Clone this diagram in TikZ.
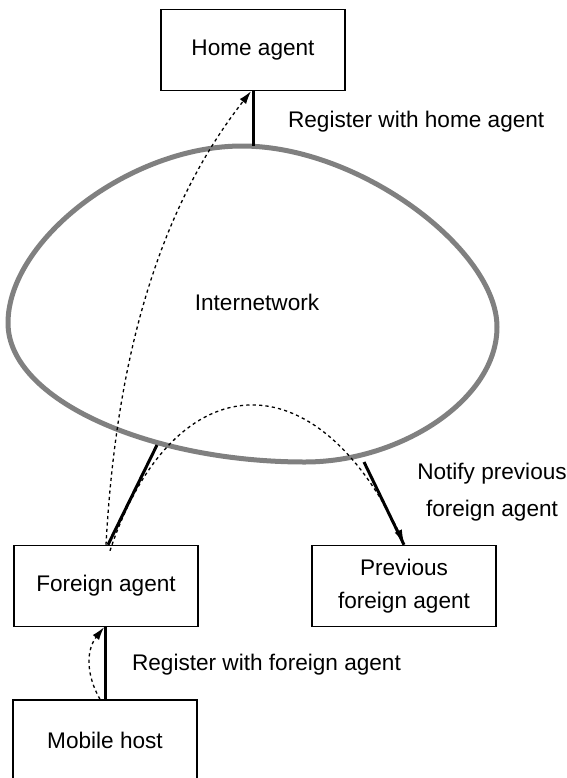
\documentclass[tikz,border=0pt]{standalone}
\usepackage{fontspec}
\setmainfont{Liberation Sans}
\usetikzlibrary{positioning}
\usetikzlibrary{arrows.meta,calc}

\tikzset{
  agentbox/.style={draw, line width=0.75pt, minimum width=92pt, minimum height=40.5pt, align=center, font=\fontsize{11.3}{16.5}\selectfont},
  link/.style={line width=1.5pt},
  msgpath/.style={line width=0.65pt, dash pattern=on 1.6pt off 1.6pt, -{Latex[length=6.5pt,width=4pt]}},
  lbl/.style={font=\fontsize{11.3}{18.5}\selectfont, align=center}
}

\begin{document}
\begin{tikzpicture}[x=0.5pt,y=-0.5pt]
	\useasboundingbox (0,0) rectangle (567,778);
	% the internetwork cloud
	\draw[color=gray, line width=2.5pt, line join=round] (242,146) .. controls (360,146) and (497,250) .. (497,327)
		.. controls (497,400) and (400,462) .. (305,462)
		.. controls (150,462) and (8,400) .. (8,323)
		.. controls (8,240) and (130,146) .. (242,146) -- cycle;
	\node[lbl] (inet) at (257,302) {Internetwork};
	\coordinate (net_n) at (253,146);
	\coordinate (net_sw) at (157,445);
	\coordinate (net_se) at (364,462);

	\node[agentbox] (ha) at (253,50) {Home agent};
	\node[agentbox] (fa) at (106,586) {Foreign agent};
	\node[agentbox] (pfa) at (404,586) {Previous\\foreign agent};
	\node[agentbox, minimum height=40pt] (mh) at (105,740) {Mobile host};

	\draw[link] (ha.south) -- (net_n);
	\draw[link] ([xshift=1pt]fa.north) -- (net_sw);
	\draw[link] (net_se) -- (pfa.north);
	\draw[link] (mh.north) -- (mh.north |- fa.south);

	\draw[msgpath] (fa.north) .. controls (115,380) and (150,220) .. ([xshift=-1pt]ha.south);
	\draw[msgpath] ([xshift=2pt,yshift=-3pt]fa.north) .. controls (170,370) and (310,350) .. ([yshift=1pt]pfa.north);
	\draw[msgpath] ([xshift=-2.5pt]mh.north) .. controls (86,675) and (86,650) .. ([xshift=-0.5pt]mh.north |- fa.south);

	\node[lbl, anchor=west] (reg_ha) at (281,122) {Register with home agent};
	\node[lbl] (notify) at (492,492) {Notify previous\\foreign agent};
	\node[lbl, anchor=west] (reg_fa) at (125,665) {Register with foreign agent};
\end{tikzpicture}
\end{document}
